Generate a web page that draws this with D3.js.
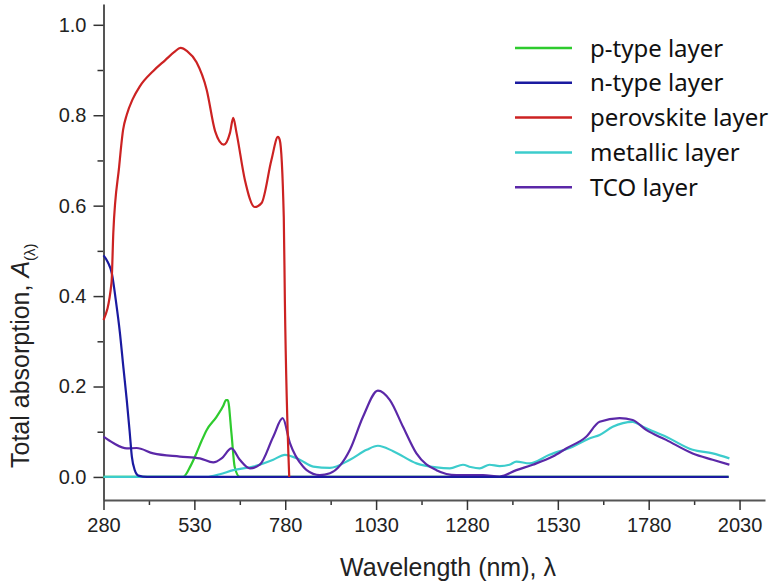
<!DOCTYPE html>
<html>
<head>
<meta charset="utf-8">
<script src="https://cdn.jsdelivr.net/npm/d3@7"></script>
<style>
  body { margin: 0; background: #fff; }
  svg { display: block; }
</style>
</head>
<body>
<svg id="chart"></svg>
<script>
// values: [wavelength nm, total absorption]
const pTypeLayer = [[280, 0], [400, 0], [499, 0], [520, 0.025], [536, 0.053], [550, 0.08], [564, 0.104], [591, 0.133], [610, 0.158], [617, 0.170], [622, 0.170], [632, 0.097], [641, 0.022], [655, 0], [800, 0], [2000, 0]];
const nTypeLayer = [[280, 0.49], [292, 0.475], [303, 0.45], [314, 0.39], [325, 0.32], [335, 0.24], [344, 0.17], [352, 0.10], [358, 0.045], [366, 0.015], [376, 0.003], [400, 0], [1000, 0], [2000, 0]];
const perovskiteLayer = [[280, 0.347], [302, 0.429], [307, 0.54], [323, 0.686], [334, 0.768], [344, 0.801], [360, 0.835], [380, 0.864], [417, 0.898], [450, 0.922], [475, 0.940], [492, 0.949], [510, 0.942], [536, 0.917], [564, 0.856], [587, 0.765], [611, 0.735], [628, 0.761], [637, 0.794], [646, 0.761], [669, 0.657], [696, 0.597], [715, 0.606], [742, 0.701], [760, 0.752], [765, 0.745], [776, 0.575], [779, 0.39], [791, 0]];
const metallicLayer = [[280, 0], [564, 0], [600, 0.006], [637, 0.015], [692, 0.023], [747, 0.038], [779, 0.049], [820, 0.038], [857, 0.023], [903, 0.02], [958, 0.038], [1004, 0.06], [1035, 0.069], [1077, 0.057], [1141, 0.03], [1196, 0.021], [1233, 0.019], [1269, 0.027], [1290, 0.022], [1315, 0.019], [1342, 0.027], [1370, 0.024], [1397, 0.027], [1416, 0.034], [1452, 0.03], [1507, 0.049], [1571, 0.067], [1620, 0.086], [1645, 0.093], [1681, 0.111], [1736, 0.122], [1764, 0.111], [1828, 0.089], [1901, 0.06], [1956, 0.052], [2002, 0.041]];
const tcoLayer = [[280, 0.089], [307, 0.075], [344, 0.063], [371, 0.064], [417, 0.052], [490, 0.045], [545, 0.041], [582, 0.032], [605, 0.041], [632, 0.063], [655, 0.038], [683, 0.019], [710, 0.027], [747, 0.089], [773, 0.13], [793, 0.075], [829, 0.023], [839, 0.015], [875, 0.004], [903, 0.008], [958, 0.06], [994, 0.133], [1035, 0.191], [1068, 0.17], [1104, 0.111], [1141, 0.052], [1196, 0.015], [1251, 0.004], [1324, 0.004], [1370, 0.001], [1416, 0.015], [1461, 0.027], [1516, 0.045], [1553, 0.063], [1608, 0.089], [1645, 0.122], [1700, 0.13], [1736, 0.126], [1773, 0.104], [1828, 0.082], [1901, 0.052], [1956, 0.038], [2002, 0.027]];

const seriesNames = ["p-type layer", "n-type layer", "perovskite layer", "metallic layer", "TCO layer"];
const xTicks = [280, 530, 780, 1030, 1280, 1530, 1780, 2030];
const xMinorTicks = [405, 655, 905, 1155, 1405, 1655, 1905];
const yTicks = [0, 0.2, 0.4, 0.6, 0.8, 1.0];
const yMinorTicks = [0.1, 0.3, 0.5, 0.7, 0.9];

class AbsorptionChart {
  constructor(_config, _series) {
    this.config = {
      parentElement: _config.parentElement,
      containerWidth: _config.containerWidth || 783,
      containerHeight: _config.containerHeight || 583,
      margin: { top: 4, bottom: 83, right: 18, left: 103.5 },
    }
    this.series = _series;
    this.initVis();
  }

  initVis() {
    let vis = this;
    vis.width = vis.config.containerWidth - vis.config.margin.left - vis.config.margin.right;
    vis.height = vis.config.containerHeight - vis.config.margin.top - vis.config.margin.bottom;

    vis.svg = d3.select(vis.config.parentElement)
      .attr('width', vis.config.containerWidth)
      .attr('height', vis.config.containerHeight);

    vis.chart = vis.svg.append('g')
      .attr('transform', `translate(${vis.config.margin.left},${vis.config.margin.top})`);

    vis.x = d3.scaleLinear().domain([280, 2100]).range([0, vis.width]);
    vis.y = d3.scaleLinear().domain([-0.051, 1.046]).range([vis.height, 0]);

    vis.updateVis();
  }

  updateVis() {
    let vis = this;
    const font = "'Liberation Sans', Arial, sans-serif";

    // minor ticks first, no labels
    vis.chart.append('g')
      .attr('transform', `translate(0,${vis.height})`)
      .call(d3.axisBottom(vis.x).tickValues(xMinorTicks).tickSize(5).tickFormat(''))
      .call(g => g.select('.domain').remove());
    vis.chart.append('g')
      .call(d3.axisLeft(vis.y).tickValues(yMinorTicks).tickSize(6).tickFormat(''))
      .call(g => g.select('.domain').remove());

    vis.xAxisG = vis.chart.append('g')
      .attr('transform', `translate(0,${vis.height})`)
      .call(d3.axisBottom(vis.x).tickValues(xTicks).tickSize(10).tickPadding(8).tickSizeOuter(0).tickFormat(d3.format('d')));
    vis.yAxisG = vis.chart.append('g')
      .call(d3.axisLeft(vis.y).tickValues(yTicks).tickSize(10).tickPadding(7).tickSizeOuter(0).tickFormat(d3.format('.1f')));

    vis.chart.selectAll('.tick line').attr('stroke', '#333').attr('stroke-width', 1.5);
    vis.chart.selectAll('.domain').attr('stroke', '#555').attr('stroke-width', 2);
    vis.chart.selectAll('.tick text')
      .style('font-family', font)
      .style('font-size', '20px')
      .attr('fill', '#222');

    // lines
    vis.line = d3.line()
      .x(d => vis.x(d[0]))
      .y(d => vis.y(d[1]))
      .curve(d3.curveMonotoneX);

    const drawOrder = [0, 3, 4, 1, 2];
    drawOrder.forEach(i => {
      const s = vis.series[i];
      vis.chart.append('path')
        .datum(s.values)
        .attr('fill', 'none')
        .attr('stroke', s.color)
        .attr('stroke-width', 2.2)
        .attr('stroke-linejoin', 'round')
        .attr('d', vis.line);
    });

    // axis titles
    vis.svg.append('text')
      .attr('x', 448)
      .attr('y', 576)
      .attr('text-anchor', 'middle')
      .style('font-family', font)
      .style('font-size', '25px')
      .attr('fill', '#222')
      .text('Wavelength (nm), λ');

    const yTitle = vis.svg.append('text')
      .attr('transform', 'translate(29,468) rotate(-90)')
      .style('font-family', font)
      .style('font-size', '25px')
      .attr('fill', '#222');
    yTitle.append('tspan').text('Total absorption, ');
    yTitle.append('tspan').style('font-style', 'italic').text('A');
    yTitle.append('tspan').attr('dy', 6).style('font-size', '15px').text('(λ)');

    // legend
    const legend = vis.svg.append('g').attr('transform', 'translate(515,48)');
    vis.series.forEach((s, i) => {
      const row = legend.append('g').attr('transform', `translate(0,${i * 34.8})`);
      row.append('line')
        .attr('x1', 0).attr('x2', 57)
        .attr('stroke', s.color)
        .attr('stroke-width', 2.5);
      row.append('text')
        .attr('x', 75)
        .attr('dy', '0.36em')
        .style('font-family', "'Noto Sans', sans-serif")
        .style('font-size', '24px')
        .attr('fill', '#111')
        .text(s.name);
    });
  }
}

const series = [
  { name: seriesNames[0], color: '#2ecb2e', values: pTypeLayer },
  { name: seriesNames[1], color: '#1a1aa0', values: nTypeLayer },
  { name: seriesNames[2], color: '#cc2222', values: perovskiteLayer },
  { name: seriesNames[3], color: '#3ccccc', values: metallicLayer },
  { name: seriesNames[4], color: '#5b28a8', values: tcoLayer },
];

new AbsorptionChart({ parentElement: '#chart', containerWidth: 783, containerHeight: 583 }, series);
</script>
</body>
</html>
